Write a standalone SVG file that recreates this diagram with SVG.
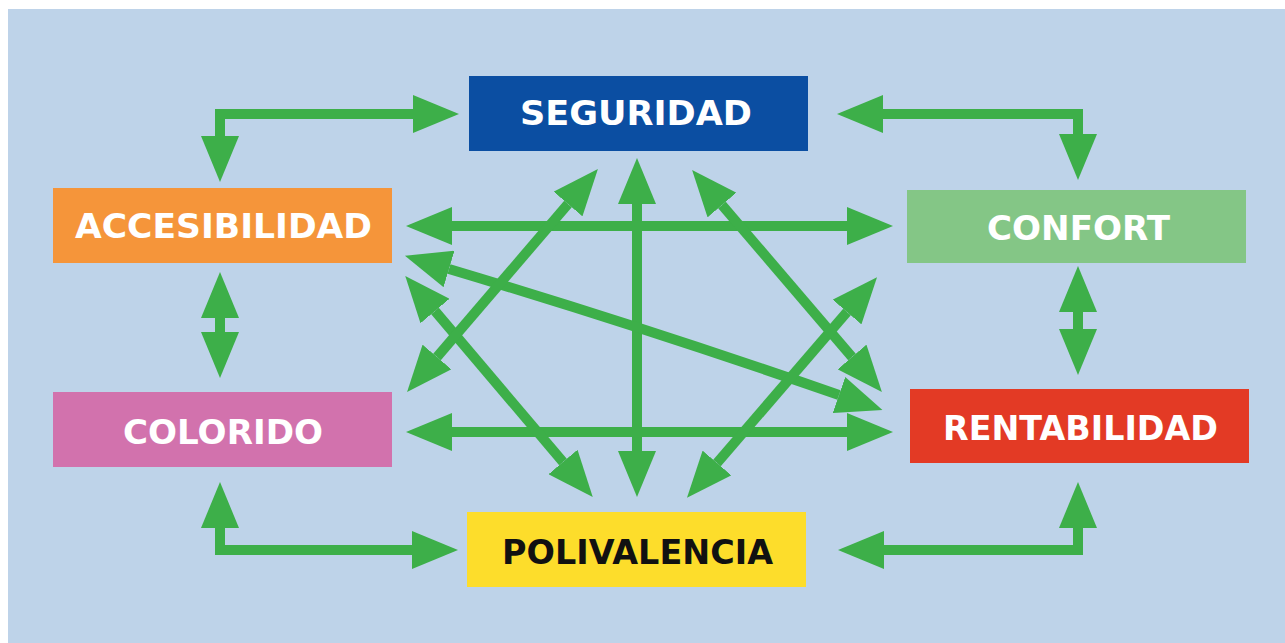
<svg xmlns="http://www.w3.org/2000/svg" width="1285" height="643" viewBox="0 0 1285 643">
  <style>
    .lbl { font-family: "DejaVu Sans", "Liberation Sans", Arial, sans-serif; font-weight: bold; font-size: 34px; fill: #ffffff; text-anchor: middle; }
    .dark { fill: #111111; }
    .con { fill: none; stroke: #3daf49; stroke-width: 10; stroke-linejoin: miter; stroke-linecap: butt; marker-start: url(#ah); marker-end: url(#ah); }
  </style>
  <defs>
    <marker id="ah" markerUnits="userSpaceOnUse" markerWidth="46" markerHeight="38" refX="0" refY="19" viewBox="0 0 46 38" orient="auto-start-reverse">
      <path d="M0,0 L46,19 L0,38 z" fill="#3daf49"/>
    </marker>
  </defs>
  <rect x="0" y="0" width="1285" height="643" fill="#ffffff"/>
  <rect x="8" y="9" width="1277" height="634" fill="#bed3e9"/>

  <g id="connectors">
    <path class="con" d="M413,114 H220 V136"/>
    <path class="con" d="M883,114 H1078 V134"/>
    <path class="con" d="M1078,312 V329"/>
    <path class="con" d="M220,318 V332"/>
    <path class="con" d="M220,528 V550 H412"/>
    <path class="con" d="M1078,528 V550 H884"/>
    <path class="con" d="M452,226 H847"/>
    <path class="con" d="M452,432 H847"/>
    <path class="con" d="M637,204 V451"/>
    <path class="con" d="M449,269 Q640,326 839,395"/>
    <path class="con" d="M435,311 L563,462"/>
    <path class="con" d="M437,357 L568,204"/>
    <path class="con" d="M722,205 L852,357"/>
    <path class="con" d="M847,312 L717,463"/>
  </g>

  <g id="seguridad">
    <rect x="469" y="76" width="339" height="75" fill="#0b4ea2"/>
    <text class="lbl" x="636" y="125" textLength="232" lengthAdjust="spacingAndGlyphs">SEGURIDAD</text>
  </g>
  <g id="accesibilidad">
    <rect x="53" y="188" width="339" height="75" fill="#f5953a"/>
    <text class="lbl" x="223.5" y="238" textLength="297" lengthAdjust="spacingAndGlyphs">ACCESIBILIDAD</text>
  </g>
  <g id="confort">
    <rect x="907" y="190" width="339" height="73" fill="#84c686"/>
    <text class="lbl" x="1078.5" y="240" textLength="183" lengthAdjust="spacingAndGlyphs">CONFORT</text>
  </g>
  <g id="colorido">
    <rect x="53" y="392" width="339" height="75" fill="#d272ad"/>
    <text class="lbl" x="223" y="444" textLength="200" lengthAdjust="spacingAndGlyphs">COLORIDO</text>
  </g>
  <g id="rentabilidad">
    <rect x="910" y="389" width="339" height="74" fill="#e33a25"/>
    <text class="lbl" x="1080.5" y="440" textLength="275" lengthAdjust="spacingAndGlyphs">RENTABILIDAD</text>
  </g>
  <g id="polivalencia">
    <rect x="467" y="512" width="339" height="75" fill="#fddd2b"/>
    <text class="lbl dark" x="637.5" y="564" textLength="271" lengthAdjust="spacingAndGlyphs">POLIVALENCIA</text>
  </g>
</svg>
